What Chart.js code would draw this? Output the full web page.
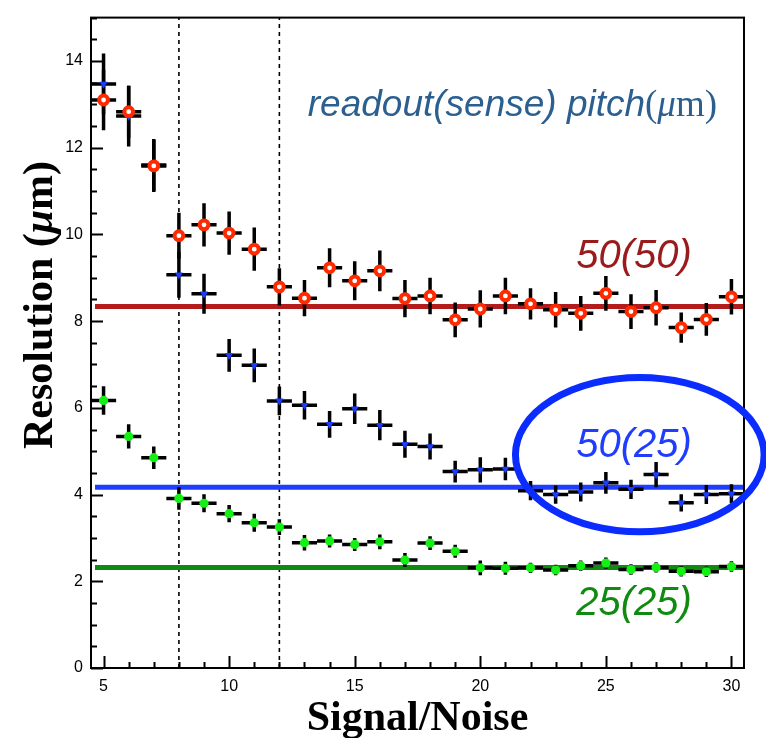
<!DOCTYPE html>
<html>
<head>
<meta charset="utf-8">
<script src="https://cdn.jsdelivr.net/npm/chart.js@4/dist/chart.umd.min.js"></script>
<style>
  html, body { margin: 0; padding: 0; background: #ffffff; }
  canvas { display: block; }
</style>
</head>
<body>
<canvas id="chart" width="766" height="738"></canvas>
<script>
// Signal/Noise bins
const snr = [5, 6, 7, 8, 9, 10, 11, 12, 13, 14, 15, 16, 17, 18, 19, 20, 21, 22, 23, 24, 25, 26, 27, 28, 29, 30];
const snrHalfWidth = 0.5;

// 50(50): readout pitch 50 um, sense pitch 50 um
const res5050 = [13.10, 12.83, 11.58, 9.97, 10.22, 10.03, 9.66, 8.79, 8.53, 9.23, 8.93, 9.16, 8.52, 8.58, 8.03, 8.28, 8.58, 8.40, 8.26, 8.18, 8.64, 8.22, 8.31, 7.85, 8.04, 8.56];
const err5050 = [0.70, 0.60, 0.60, 0.53, 0.50, 0.50, 0.50, 0.43, 0.42, 0.45, 0.45, 0.47, 0.43, 0.42, 0.40, 0.43, 0.42, 0.36, 0.41, 0.40, 0.40, 0.40, 0.41, 0.35, 0.38, 0.41];

// 50(25): readout pitch 50 um, sense pitch 25 um
const res5025 = [13.47, 12.73, 11.60, 9.07, 8.63, 7.21, 6.98, 6.16, 6.06, 5.62, 5.98, 5.60, 5.16, 5.11, 4.53, 4.57, 4.59, 4.09, 4.00, 4.06, 4.27, 4.12, 4.46, 3.81, 4.00, 4.02];
const err5025 = [0.70, 0.70, 0.60, 0.53, 0.46, 0.38, 0.39, 0.33, 0.33, 0.31, 0.35, 0.35, 0.31, 0.30, 0.25, 0.29, 0.26, 0.22, 0.21, 0.22, 0.25, 0.22, 0.29, 0.20, 0.22, 0.22];

// 25(25): readout pitch 25 um, sense pitch 25 um
const res2525 = [6.17, 5.34, 4.85, 3.91, 3.80, 3.56, 3.35, 3.25, 2.89, 2.93, 2.85, 2.91, 2.49, 2.88, 2.69, 2.31, 2.30, 2.31, 2.26, 2.36, 2.42, 2.27, 2.32, 2.23, 2.22, 2.34];
const err2525 = [0.33, 0.28, 0.26, 0.26, 0.21, 0.20, 0.21, 0.18, 0.18, 0.15, 0.15, 0.17, 0.16, 0.16, 0.15, 0.17, 0.15, 0.12, 0.12, 0.12, 0.13, 0.12, 0.12, 0.12, 0.12, 0.12];

// Constant fit levels (50(50), 50(25), 25(25)) and their S/N span
const fitLevels = [8.34, 4.17, 2.32];
const fitSpan = [4.66, 30.5];

// S/N cut positions
const cutLines = [8, 12];

// Axis ticks
const xTicks = [5, 10, 15, 20, 25, 30];
const yTicks = [0, 2, 4, 6, 8, 10, 12, 14];

const RED = '#ff2a00', BLUE = '#1a3cff', GREEN = '#14f014';
const FIT_COLORS = ['#b21c1c', '#1f3dff', '#108a10'];

const pts = ys => snr.map((x, i) => ({ x: x, y: ys[i] }));

const datasets = [
  { label: '50(50)', data: pts(res5050), errors: err5050, showLine: false,
    pointStyle: 'circle', pointRadius: 4.4, pointBorderWidth: 4,
    pointBackgroundColor: '#ffffff', pointBorderColor: RED, order: 1 },
  { label: '50(25)', data: pts(res5025), errors: err5025, showLine: false,
    pointStyle: 'triangle', pointRotation: 180, pointRadius: 4.6, pointBorderWidth: 0,
    pointBackgroundColor: BLUE, pointBorderColor: BLUE, order: 2 },
  { label: '25(25)', data: pts(res2525), errors: err2525, showLine: false,
    pointStyle: 'circle', pointRadius: 4.6, pointBorderWidth: 0,
    pointBackgroundColor: GREEN, pointBorderColor: GREEN, order: 3 }
];
fitLevels.forEach((lvl, i) => {
  datasets.push({ label: 'fit ' + i, data: fitSpan.map(x => ({ x: x, y: lvl })),
    showLine: true, borderColor: FIT_COLORS[i], borderWidth: 5, pointRadius: 0, order: 5 });
});
cutLines.forEach((c, i) => {
  datasets.push({ label: 'cut ' + i, data: [{ x: c, y: 0 }, { x: c, y: 15 }],
    showLine: true, borderColor: '#000000', borderWidth: 1.6, borderDash: [4, 4],
    pointRadius: 0, order: 6 });
});

// Error crosses, drawn once underneath all markers
const errorBars = {
  id: 'errorBars',
  beforeDatasetsDraw(chart) { this._done = false; },
  beforeDatasetDraw(chart, args) {
    const ds = chart.data.datasets[args.index];
    if (!ds.errors || this._done) return;
    this._done = true;
    const { ctx, scales: { x, y } } = chart;
    ctx.save();
    ctx.strokeStyle = '#000000';
    ctx.lineWidth = 3.5;
    ctx.lineCap = 'butt';
    chart.data.datasets.forEach(d => {
      if (!d.errors) return;
      d.data.forEach((p, i) => {
        const px = x.getPixelForValue(p.x), py = y.getPixelForValue(p.y);
        ctx.beginPath();
        ctx.moveTo(x.getPixelForValue(p.x - snrHalfWidth), py);
        ctx.lineTo(x.getPixelForValue(p.x + snrHalfWidth), py);
        ctx.moveTo(px, y.getPixelForValue(p.y - d.errors[i]));
        ctx.lineTo(px, y.getPixelForValue(p.y + d.errors[i]));
        ctx.stroke();
      });
    });
    ctx.restore();
  }
};

// Frame, inward ticks, annotations and axis titles
const decorations = {
  id: 'decorations',
  afterDraw(chart) {
    const { ctx, chartArea: a, scales: { x, y } } = chart;
    ctx.save();
    // frame
    ctx.strokeStyle = '#000000';
    ctx.lineWidth = 2;
    ctx.strokeRect(a.left, a.top, a.right - a.left, a.bottom - a.top);
    // y ticks (every 0.5, long at even values)
    ctx.beginPath();
    for (let v = 0; v <= 15.001; v += 0.5) {
      const py = Math.round(y.getPixelForValue(v)) + 0.5;
      const len = (Math.abs(v % 2) < 1e-6) ? 12 : 6;
      ctx.moveTo(a.left, py); ctx.lineTo(a.left + len, py);
    }
    // x ticks (every 1, long at multiples of 5)
    for (let v = 5; v <= 30; v += 1) {
      const px = Math.round(x.getPixelForValue(v)) + 0.5;
      const len = (v % 5 === 0) ? 12 : 6;
      ctx.moveTo(px, a.bottom); ctx.lineTo(px, a.bottom - len);
    }
    ctx.stroke();

    // highlight ellipse around the 50(25) plateau
    const ecx = 26.35, ecy = 4.92, erx = 4.95, ery = 1.78;
    ctx.beginPath();
    ctx.ellipse(x.getPixelForValue(ecx), y.getPixelForValue(ecy),
                x.getPixelForValue(ecx + erx) - x.getPixelForValue(ecx),
                y.getPixelForValue(ecy) - y.getPixelForValue(ecy + ery),
                0, 0, Math.PI * 2);
    ctx.lineWidth = 7;
    ctx.strokeStyle = '#0a2cff';
    ctx.stroke();

    // series labels
    ctx.textBaseline = 'alphabetic';
    ctx.textAlign = 'left';
    ctx.font = 'italic 40px "Liberation Sans", Arial, sans-serif';
    const lx = x.getPixelForValue(23.82);
    ctx.fillStyle = '#9a1b1b';
    ctx.fillText('50(50)', lx, y.getPixelForValue(9.23));
    ctx.fillStyle = '#1f3dff';
    ctx.fillText('50(25)', lx, y.getPixelForValue(4.86));
    ctx.fillStyle = '#108a10';
    ctx.fillText('25(25)', lx, y.getPixelForValue(1.22));

    // legend heading
    let tx = x.getPixelForValue(13.13);
    const ty = y.getPixelForValue(12.73);
    ctx.fillStyle = '#2b5f8f';
    const parts = [
      ['readout(sense) pitch', 'italic 37px "Liberation Sans", Arial, sans-serif'],
      ['(', '37px "Liberation Serif", "Times New Roman", serif'],
      ['\u03BC', 'italic 37px "Liberation Serif", "Times New Roman", serif'],
      ['m)', '37px "Liberation Serif", "Times New Roman", serif']
    ];
    parts.forEach(([t, f]) => { ctx.font = f; ctx.fillText(t, tx, ty); tx += ctx.measureText(t).width; });

    // axis titles
    ctx.fillStyle = '#000000';
    const bold = 'bold 42px "Liberation Serif", "Times New Roman", serif';
    const boldIt = 'italic bold 42px "Liberation Serif", "Times New Roman", serif';
    ctx.font = bold;
    ctx.textAlign = 'center';
    ctx.fillText('Signal/Noise', (a.left + a.right) / 2, 730);

    const ytParts = [['Resolution (', bold], ['\u03BC', boldIt], ['m)', bold]];
    let total = 0;
    ytParts.forEach(([t, f]) => { ctx.font = f; total += ctx.measureText(t).width; });
    ctx.translate(52, 305);
    ctx.rotate(-Math.PI / 2);
    ctx.textAlign = 'left';
    let ux = -total / 2;
    ytParts.forEach(([t, f]) => { ctx.font = f; ctx.fillText(t, ux, 0); ux += ctx.measureText(t).width; });
    ctx.restore();
  }
};

new Chart(document.getElementById('chart'), {
  type: 'scatter',
  data: { datasets: datasets },
  options: {
    responsive: false,
    animation: false,
    devicePixelRatio: 1,
    layout: { padding: { top: 16, right: 22, left: 0, bottom: 0 } },
    plugins: { legend: { display: false }, tooltip: { enabled: false } },
    scales: {
      x: {
        type: 'linear', min: 4.5, max: 30.5,
        grid: { display: false, drawTicks: false },
        border: { display: false },
        ticks: { autoSkip: false, maxRotation: 0, padding: 9, color: '#000000',
                 font: { family: '"Liberation Sans", Arial, sans-serif', size: 16 } },
        afterBuildTicks: s => { s.ticks = xTicks.map(v => ({ value: v })); },
        afterFit: s => { s.height = 70; }
      },
      y: {
        type: 'linear', min: 0, max: 15,
        grid: { display: false, drawTicks: false },
        border: { display: false },
        ticks: { autoSkip: false, padding: 8, color: '#000000',
                 font: { family: '"Liberation Sans", Arial, sans-serif', size: 16 } },
        afterBuildTicks: s => { s.ticks = yTicks.map(v => ({ value: v })); },
        afterFit: s => { s.width = 91; }
      }
    }
  },
  plugins: [errorBars, decorations]
});
</script>
</body>
</html>
